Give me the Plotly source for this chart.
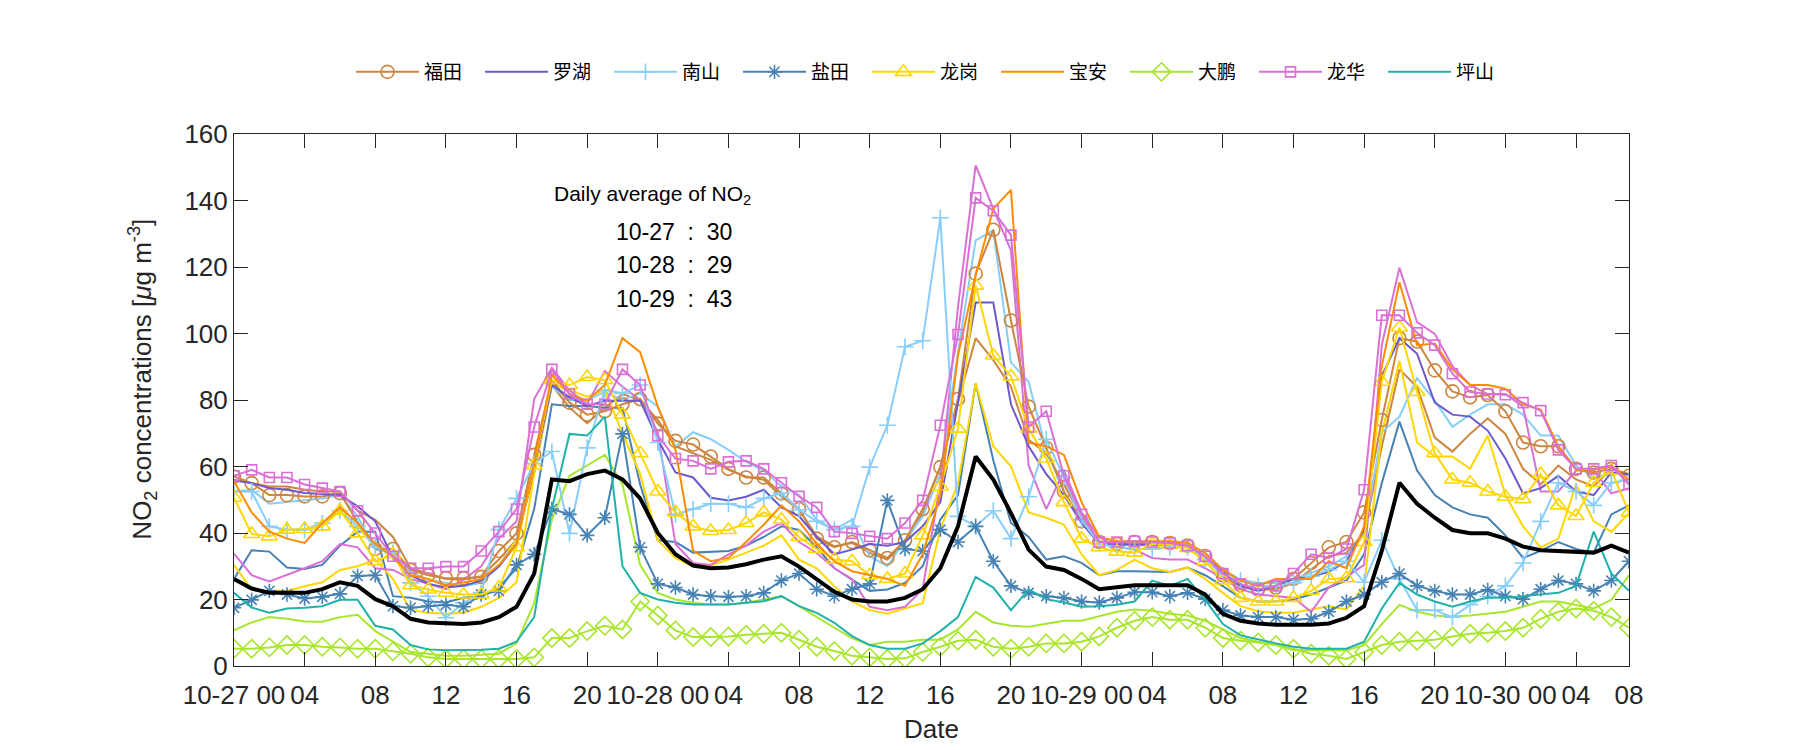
import plotly.graph_objects as go

hours = list(range(80))
tick_hours = [0, 4, 8, 12, 16, 20, 24, 28, 32, 36, 40, 44, 48, 52, 56, 60, 64, 68, 72, 76, 79]
tick_labels = ["10-27 00", "04", "08", "12", "16", "20", "10-28 00", "04", "08", "12", "16", "20",
               "10-29 00", "04", "08", "12", "16", "20", "10-30 00", "04", "08"]

futian_a = [57, 55, 51.4, 51.4, 51, 51, 52, 43.3, 35.2, 35.2, 28.9, 27.3, 26.4,
            26.4, 26.8, 34.6, 39.9, 63.5, 86, 79.2, 75.6, 76.6, 78.7, 80.3,
            72.9, 67.7, 66.6, 63, 59.3, 56.7, 56.7, 51.9, 47.2, 38.3, 35.7, 37.3,
            34.8, 32.5, 37.8, 47.2, 59.8, 80.3, 118, 131.2, 103.9, 78,
            65.6, 52.5, 43.5, 37.3, 36.7, 37.3, 37.3, 37, 36.2, 33.1,
            27.3, 24.3, 23, 23.6, 26.2, 31, 35.7, 37.3, 46.2, 74,
            98.6, 97.6, 88.9, 82.6, 80.8, 81.5, 76.6, 67.2, 66.1, 66.1, 59.3, 58.2, 59.3, 57.2]
futian_b = [56, 55, 54, 54, 53, 52.5, 52.5, 46.7, 44, 38.8, 29.4, 27.8, 26.2,
            26, 27, 32, 38, 58, 84.5, 77.7, 73, 77.7, 81.8, 80,
            74, 66, 64, 62, 59, 57, 56, 51, 47, 39, 36, 37,
            34, 32, 37, 46, 60, 79, 98.6, 92, 84, 68,
            64, 54.6, 45, 37.5, 37, 37, 37, 37, 36, 33,
            27, 24, 23, 23, 25, 29, 33, 34, 40, 66,
            89.2, 83.9, 68.7, 64.5, 69.8, 74.5, 69.8, 59.3, 54.6, 60.3, 56.1, 54, 59.3, 57.7]
luohu = [55.8, 55, 53.5, 53, 52, 51.6, 51.4, 48, 43.5, 32.5, 27.3, 24.7, 23.6,
         24.1, 25.7, 29.9, 36.7, 59.8, 84.5, 80.8, 78.2, 79.8, 79.8, 79.8,
         68.2, 58.2, 56.7, 50.6, 49.8, 50.9, 53, 47.7, 45.1, 38.8, 33.6, 35,
         36.7, 36.2, 37.3, 42, 49.3, 78.7, 109.3, 109.3, 78.7, 66.1,
         57.7, 51.4, 43, 36.7, 36.5, 36.5, 36.5, 36.5, 36, 33,
         28.3, 24.1, 22.6, 24.1, 26.2, 26.8, 28.3, 31.5, 41, 87.1,
         98.6, 93.9, 79.2, 75.6, 75, 70.8, 62.4, 51.9, 53.5, 57.2, 52.5, 51.4, 58.2, 57.7]
nanshan_a = [52.5, 52.5, 42, 41, 41, 43, 46.7, 42, 35.7, 34, 25, 21, 14.5,
             19, 22, 41, 50.4, 60.9, 64.5, 39.9, 65.6, 83, 82, 84.5,
             67.2, 45.6, 47.2, 48.8, 48.8, 47.7, 50.4, 52, 47, 43.5, 41, 42,
             59.8, 72.4, 96, 97.8, 134.8, 45, 42, 46.7, 38.3, 50.9,
             68.2, 56.7, 44, 36.7, 35.7, 35.2, 35.2, 35.7, 35.7, 32,
             27.3, 25.7, 24.1, 24.1, 25, 27, 29, 31.5, 25.2, 37.8,
             26.2, 16.8, 16.8, 14.7, 18.4, 21, 24.1, 31, 43.5, 55.1, 52.5, 48.3, 55.1, 56]
nanshan_b = [52.5, 53, 48.8, 49.3, 49.8, 50.4, 51.4, 45, 35, 34, 28.3, 26, 25,
             24, 25, 30, 38, 62, 84, 80, 80, 82.4, 80, 82,
             78, 66, 70.3, 68.2, 65, 61.4, 58.8, 54, 51.4, 44, 41, 44,
             33, 30, 37.8, 45, 57.7, 94.4, 128, 131, 91.3, 85.5,
             65, 52.5, 44, 37.3, 36.5, 36.5, 36.5, 36.5, 36.5, 34,
             29, 26, 25, 25, 26, 28, 30, 33, 40, 70.3,
             75, 86.6, 79.8, 71.9, 75.6, 78.7, 78.7, 75.6, 69.3, 69.3, 60.3, 56.7, 57.7, 57.7]
yantian_a = [17.5, 19.9, 22.6, 21.5, 20.3, 20.8, 21.7, 27.1, 27.3, 18, 17.5, 18, 18.4,
             17.8, 21.5, 22.6, 30.4, 33.6, 47.2, 45.6, 39.3, 44.6, 69.8, 35.7,
             24.7, 23.6, 21.5, 21, 20.8, 21, 22, 25.7, 27.8, 23.1, 21, 23.1,
             24.7, 49.8, 35.2, 34.6, 41, 37.3, 42, 31.5, 24.1, 22,
             21, 20.5, 19.4, 19.1, 20.5, 22.2, 22.2, 21, 22, 20.1,
             16.8, 15.2, 14.7, 14.7, 13.9, 14.2, 16.3, 19.4, 21.5, 25.2,
             27.8, 24.1, 22.6, 21.5, 21.5, 22.9, 21, 20.1, 23.1, 25.7, 24.7, 22.6, 25.7, 31.5]
yantian_b = [26.2, 34.8, 34.4, 29.6, 29.2, 30.4, 36.2, 40.4, 40.4, 21, 20.5, 19.4, 19.1,
             20.5, 21, 23.6, 29.4, 47.2, 78.7, 78.2, 78.2, 77.7, 77.7, 54.6,
             37.8, 37.3, 34.1, 34.4, 34.6, 36.2, 38.8, 42, 40.9, 35.7, 29.4, 26,
             22.6, 23, 25, 30, 44, 51.4, 85, 61.9, 43, 38.8,
             32, 33, 31, 27.3, 28.5, 28.5, 28.5, 28.3, 29.6, 27.3,
             24, 20.5, 19.4, 19.4, 20, 21.5, 23.6, 25.7, 33.6, 55,
             73.5, 58.8, 51.4, 47.7, 45.6, 44.6, 39.3, 32.5, 34.6, 37.3, 35.2, 34.1, 45.6, 48.3]
longgang_a = [50.6, 39.7, 39, 41, 41.2, 42, 46.7, 39.9, 31.5, 33.6, 24.3, 23, 22,
              21.5, 21.5, 23.6, 35.7, 60.3, 86, 84.5, 86.9, 86, 75.6, 64,
              52.5, 46.2, 42, 40.6, 40.9, 43, 46.2, 44, 38.8, 35.2, 32, 31.5,
              27.3, 26.2, 27.8, 39.3, 54, 71.4, 114.4, 93.4, 87.1, 71.4,
              62.4, 49.3, 38.3, 35.7, 34.4, 34.1, 36.7, 36.5, 35.5, 31.5,
              25.7, 20.5, 19.4, 19.4, 20.5, 22.6, 26.2, 26.4, 37.3, 85.5,
              101.8, 82.4, 64, 56.1, 55.1, 52.5, 50.9, 50.2, 57.7, 48.3, 45.1, 55.1, 58.8, 46.2]
longgang_b = [30.4, 23, 22.6, 22.6, 24, 25.2, 28.9, 30, 32, 26.2, 16.8, 16, 15.7,
              16, 17.8, 20.5, 25.2, 57.7, 85, 83, 81, 83, 70, 57.7,
              37.8, 32.5, 29.9, 30.2, 32, 34.1, 36.2, 39.3, 32, 29.4, 24, 19.4,
              16.8, 15.7, 17.3, 18.9, 41, 55, 85, 66.1, 60, 46.2,
              44.6, 42.5, 33.6, 27.3, 28.9, 32, 29.4, 28.3, 29.6, 26.2,
              22, 18, 16.5, 16, 16, 17, 18, 17, 24, 70,
              91.8, 67.2, 63, 63, 59.3, 69.3, 51.4, 42, 35.7, 38.3, 54.6, 43.5, 40.4, 46]
baoan = [55.6, 46.2, 40.4, 38.3, 37, 43, 47.7, 43, 36.7, 33, 27.3, 26.2, 24.1,
         25.2, 26.2, 30.4, 36.7, 60.9, 87.6, 81.8, 79.8, 84.5, 98.6, 94.4,
         78, 65, 34.6, 31.5, 32.5, 37.3, 42.5, 48.3, 43.5, 36.7, 31.5, 28.5,
         27.3, 26.2, 24.1, 33.6, 51.4, 93.4, 117.5, 137.5, 143.2, 67.2,
         66.1, 63.5, 49.3, 38.8, 37.5, 37.5, 37.5, 37.5, 37, 34,
         28.9, 25.7, 24.1, 26.2, 26.2, 26.2, 31.5, 29.4, 42, 90.2,
         115.4, 96.5, 97, 89.2, 84.5, 84.5, 83.4, 78.7, 77.1, 66, 59, 59, 60, 56]
dapeng_a = [5.2, 5.2, 5.6, 6.3, 6.3, 5.8, 5.6, 5.2, 5.2, 4.4, 3.7, 2.6, 2.1,
            2.1, 2.1, 2.1, 2.1, 2.6, 8.4, 8.4, 10.5, 12.1, 11, 19.4,
            15.2, 10.7, 8.7, 8.7, 8.9, 9.4, 9.7, 10, 7.9, 5.8, 4.5, 3.1,
            2.6, 2.1, 2.3, 4.2, 5.8, 7.6, 7.9, 5.8, 5.2, 5.8,
            6.8, 6.8, 7.3, 8.9, 11.5, 13.6, 14.7, 13.9, 13.9, 11.5,
            8.4, 7.6, 7.1, 6.3, 5.2, 3.7, 3.1, 2.1, 4.2, 6.3,
            7.3, 7.6, 7.9, 8.9, 9.7, 10, 10.5, 11.5, 14.2, 16.3, 17.3, 16.6, 14.7, 11.5]
dapeng_b = [10.7, 13.1, 14.7, 14.2, 13.4, 13.3, 14.7, 15.4, 10.5, 7.3, 4.2, 3.7, 3.1,
            3.1, 3.3, 3.7, 6.8, 18.9, 44, 57.2, 60.3, 63.5, 54.6, 30.4,
            22, 20, 19, 18.5, 18.5, 19, 20, 21, 18, 14.7, 11.5, 8.4,
            6.3, 7.3, 7.3, 7.9, 7.9, 11, 16.3, 13.1, 12.1, 11.8,
            12.6, 13.6, 13.6, 14.9, 16.3, 17, 16.6, 15.7, 15.2, 13.6,
            11, 8.4, 7.3, 6.3, 4.7, 4.7, 4.7, 4.7, 6.3, 12.6,
            18.4, 16.3, 15.2, 14.9, 15.2, 15.7, 16.3, 17.8, 19.4, 19.4, 18.4, 17.3, 19.9, 27.3]
longhua_a = [57.2, 59, 56.7, 56.7, 54.6, 53.5, 52.5, 46.7, 40, 33, 29.4, 29.4, 29.9,
             29.9, 34.6, 40.4, 47.2, 71.9, 89.2, 81.8, 78.7, 78.7, 89.2, 84.5,
             69.3, 62.4, 61.7, 59.3, 61.4, 61.7, 59.3, 55.1, 51, 47.7, 40.4, 39.9,
             39, 38.3, 43, 49.8, 72.4, 99.7, 140.8, 136.9, 129.6, 71.9,
             76.6, 57.2, 45.6, 37.3, 37.3, 37.5, 37.3, 37, 36.2, 33,
             27.8, 24.7, 23.1, 24.1, 27.8, 33.6, 32.5, 35.2, 53, 105.5,
             105.5, 100.2, 96.5, 87.9, 82.4, 81.8, 81.6, 79.2, 76.8, 65, 59.3, 59.3, 60.3, 54.6]
longhua_b = [33.8, 27.3, 25.4, 27.3, 29.4, 31.5, 36.7, 35.7, 29.4, 28.9, 26.2, 24.7, 23.1,
             26, 30, 38.3, 43.5, 80.3, 89.7, 82.9, 78.7, 88.7, 84, 80,
             70.3, 36.7, 31, 30.4, 33.6, 36.2, 40.4, 43, 37.3, 34, 29.4, 26.2,
             17.8, 16.8, 17.8, 23.1, 55, 108, 150.6, 137.5, 125, 60.3,
             47.2, 58.8, 46.2, 38.8, 36, 35, 32.5, 32, 32, 29.4,
             26.2, 23.1, 21.5, 21, 20.5, 16.3, 23.6, 26.8, 30.4, 96.5,
             119.8, 103.4, 99.9, 90.2, 84.5, 81.8, 81.8, 78, 52.5, 52.5, 58.8, 58.8, 51.9, 53.5]
pingshan = [22, 17.6, 16, 17.3, 17.5, 18, 19.9, 19.9, 12.1, 11, 6.3, 5, 4.7,
            4.7, 4.9, 5.2, 7.3, 14.7, 47.2, 69.8, 69.3, 75, 30, 22,
            20, 19, 18.5, 18.5, 18.5, 19, 19.5, 21, 18, 16, 13, 9,
            6.3, 5.2, 5.2, 6.8, 10.5, 14.7, 26.8, 23.6, 16.8, 23,
            20.1, 19.1, 17.8, 18, 18.4, 19.4, 25.7, 24.1, 26.2, 19.9,
            12.6, 9.2, 7.9, 6.8, 5.8, 5.2, 5.2, 5.2, 7.3, 17.3,
            25, 21.5, 19.4, 17.8, 19.4, 20.5, 20.5, 21, 21.5, 22, 24.1, 40.4, 27.8, 22.6]
average = [26.2, 23.3, 22, 22, 22, 23.1, 25.2, 24.1, 20.1, 18, 14.2, 13.1, 12.8,
           12.6, 13.1, 14.7, 17.8, 27.8, 56.1, 55.6, 57.7, 58.8, 56.1, 50.4,
           40, 33.6, 30.2, 29.4, 29.6, 30.6, 32, 33, 29.9, 26.2, 22.3, 20,
           19.4, 19.4, 20.5, 23.1, 29.4, 42, 63, 56.1, 46, 35,
           29.9, 28.9, 26.2, 23.1, 23.6, 24.3, 24.3, 24.3, 24.3, 21.5,
           15.7, 13.6, 12.8, 12.4, 12.4, 12.4, 12.8, 14.5, 18, 34.6,
           55.1, 48.8, 44.6, 40.9, 39.9, 39.9, 38.3, 35.9, 34.8, 34.6, 34.1, 34.1, 36.2, 34.1]

note_title = "Daily average of NO<sub>2</sub>"
note_days = ["10-27", "10-28", "10-29"]
note_values = ["30", "29", "43"]

C_FT, C_LH, C_NS, C_YT = "#CD853F", "#6A5ACD", "#87CEFA", "#4682B4"
C_LG, C_BA, C_DP, C_LHU, C_PS = "#FFD700", "#FF8C00", "#A8E62C", "#DA70D6", "#20B2AA"

fig = go.Figure()

# second station of a district (plain line, no legend entry)
for ys, col in [(futian_b, C_FT), (nanshan_b, C_NS), (yantian_b, C_YT), (longgang_b, C_LG),
                (dapeng_b, C_DP), (longhua_b, C_LHU)]:
    fig.add_trace(go.Scatter(x=hours, y=ys, mode="lines", line=dict(color=col, width=2),
                             showlegend=False, hoverinfo="skip"))

legend_specs = [
    ("福田", futian_a, C_FT, "circle-open", 13),
    ("罗湖", luohu, C_LH, None, 0),
    ("南山", nanshan_a, C_NS, "cross-thin-open", 12),
    ("盐田", yantian_a, C_YT, "asterisk-open", 12),
    ("龙岗", longgang_a, C_LG, "triangle-up-open", 14),
    ("宝安", baoan, C_BA, None, 0),
    ("大鹏", dapeng_a, C_DP, "diamond-open", 14),
    ("龙华", longhua_a, C_LHU, "square-open", 10),
    ("坪山", pingshan, C_PS, None, 0),
]
for rank, (name, ys, col, sym, size) in enumerate(legend_specs):
    if sym:
        fig.add_trace(go.Scatter(x=hours, y=ys, name=name, mode="lines+markers",
                                 line=dict(color=col, width=2),
                                 marker=dict(symbol=sym, size=size, color=col,
                                             line=dict(color=col, width=1.6)),
                                 legendrank=rank + 1))
    else:
        fig.add_trace(go.Scatter(x=hours, y=ys, name=name, mode="lines",
                                 line=dict(color=col, width=2), legendrank=rank + 1))

fig.add_trace(go.Scatter(x=hours, y=average, mode="lines", line=dict(color="#000000", width=4),
                         showlegend=False))

axis_col = "#262626"
fig.update_xaxes(range=[0, 79], tickvals=tick_hours, ticktext=tick_labels,
                 ticks="inside", ticklen=14, tickwidth=1, tickcolor=axis_col,
                 showline=True, linecolor=axis_col, linewidth=1, mirror="ticks",
                 showgrid=False, zeroline=False, ticklabelstandoff=6,
                 tickfont=dict(family="Liberation Sans, Arial", size=26, color=axis_col),
                 title=dict(text="Date", font=dict(family="Liberation Sans, Arial", size=26, color=axis_col),
                            standoff=10))
fig.update_yaxes(range=[0, 160], dtick=20, tick0=0,
                 ticks="inside", ticklen=14, tickwidth=1, tickcolor=axis_col,
                 showline=True, linecolor=axis_col, linewidth=1, mirror="ticks",
                 showgrid=False, zeroline=False,
                 tickfont=dict(family="Liberation Sans, Arial", size=26, color=axis_col))

# y-axis label placed as rotated text (sits slightly above the axis centre, as in the original)
fig.add_annotation(text="NO<sub>2</sub> concentrations [<i>μ</i>g m<sup>-3</sup>]",
                   x=-0.066, y=0.54, xref="paper", yref="paper", xanchor="center", yanchor="middle",
                   textangle=-90, showarrow=False,
                   font=dict(family="Liberation Sans, Arial", size=26, color=axis_col))

fig.add_annotation(text=note_title, x=0.228, y=0.885, xref="paper", yref="paper", xanchor="left",
                   yanchor="middle", showarrow=False,
                   font=dict(family="Liberation Sans, Arial", size=21, color="#000000"))
for i, (d, v) in enumerate(zip(note_days, note_values)):
    fig.add_annotation(text=d + "\u00a0\u00a0:\u00a0\u00a0" + v, x=0.2725, y=0.816 - 0.063 * i,
                       xref="paper", yref="paper", xanchor="left", yanchor="middle", showarrow=False,
                       font=dict(family="Liberation Sans, Arial", size=23, color="#000000"))

fig.update_layout(
    width=1800, height=750,
    margin=dict(l=234, r=171, t=134, b=84),
    paper_bgcolor="white", plot_bgcolor="white",
    legend=dict(orientation="h", x=0.5, xanchor="center", y=1.1165, yanchor="middle",
                font=dict(family="Noto Sans CJK SC", size=19, color="#000000"),
                itemwidth=63, entrywidth=51, entrywidthmode="pixels",
                bgcolor="rgba(0,0,0,0)", traceorder="normal"),
    showlegend=True,
)

fig.write_html("out.html", config={"displayModeBar": False},
               post_script="document.body.style.margin='0';document.body.style.overflow='hidden';")
